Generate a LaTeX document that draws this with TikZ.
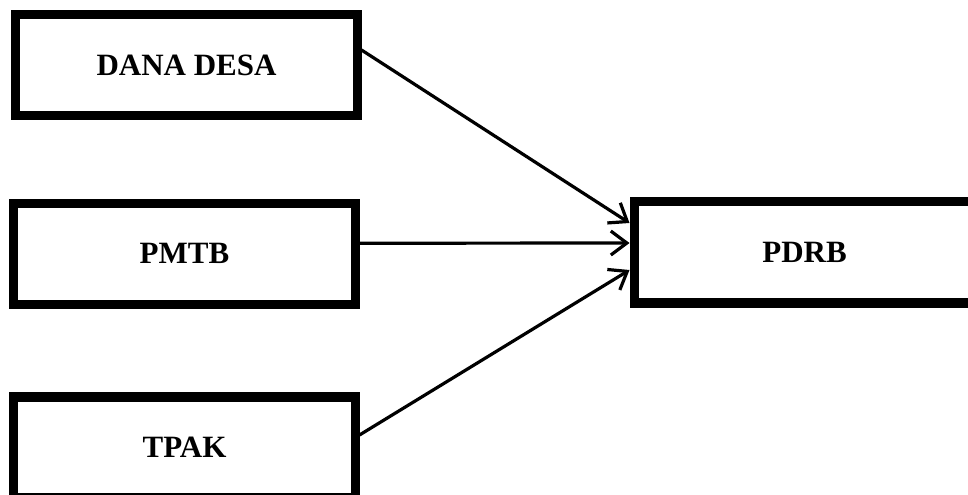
\documentclass[tikz,border=0pt]{standalone}
\usepackage{fontspec}
\setmainfont{Liberation Serif}
\usetikzlibrary{arrows.meta}
\begin{document}
\begin{tikzpicture}[x=1bp,y=-1bp,
  box/.style={draw=black, line width=9bp, fill=white, rectangle,
    minimum width=341bp, minimum height=101bp, inner sep=0pt,
    font=\fontsize{31bp}{36bp}\selectfont\bfseries},
  link/.style={line width=3.2bp, -{Straight Barb[length=16bp,width=24bp,line width=3.2bp]}}]
\useasboundingbox (0,0) rectangle (968,495);
\node[box] (dana) at (186.5,65) {DANA DESA};
\node[box, minimum height=100.5bp] (pmtb) at (184.5,253.75) {PMTB};
\node[box, minimum height=100bp] (tpak) at (184.5,447) {TPAK};
\node[box] (pdrb) at (804.5,252.5) {PDRB};
\draw[link] ([yshift=15bp]dana.east) -- ([yshift=29.5bp]pdrb.west);
\draw[link] ([yshift=10.5bp]pmtb.east) -- ([yshift=9.5bp]pdrb.west);
\draw[link] ([yshift=12bp]tpak.east) -- ([yshift=-17.5bp]pdrb.west);
\end{tikzpicture}
\end{document}
